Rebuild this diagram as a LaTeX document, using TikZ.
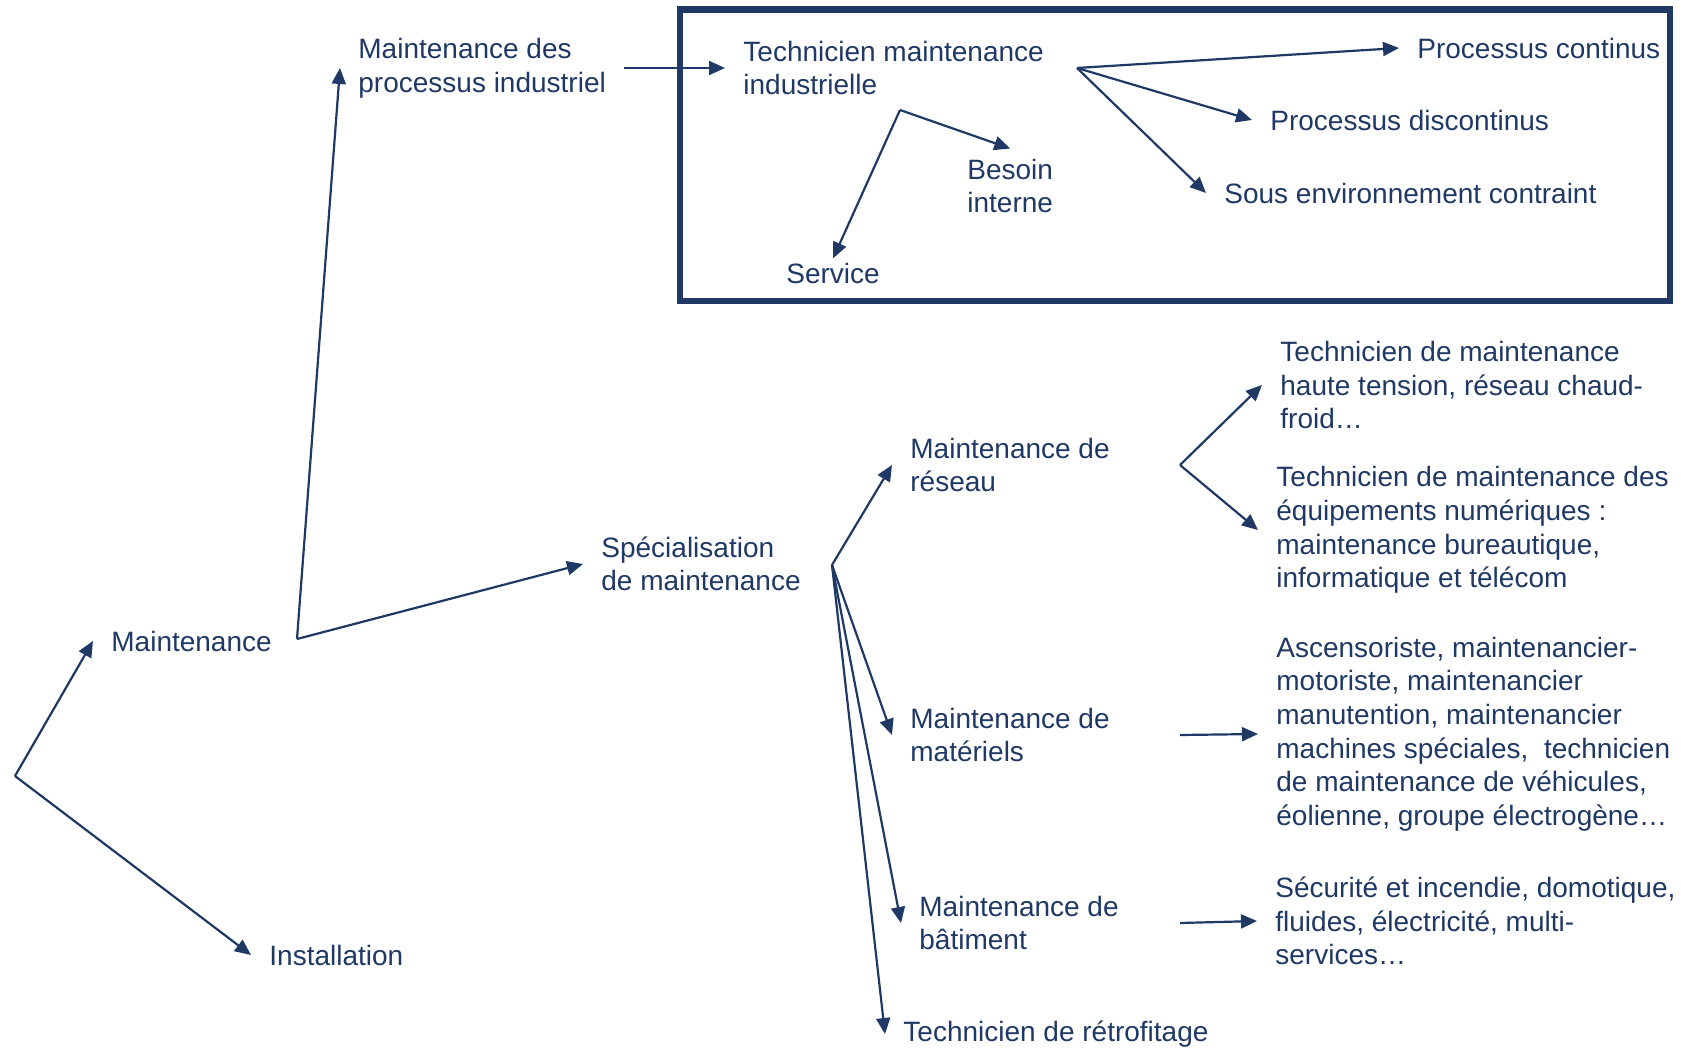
\documentclass[tikz,border=0pt]{standalone}
\usepackage{fontspec}
\setmainfont{Liberation Sans}
\usepackage{tikz}
\usetikzlibrary{arrows.meta}
\definecolor{navy}{HTML}{1F3864}
\tikzset{lbl/.style={anchor=west, align=left, inner xsep=9pt, inner ysep=2pt, text=navy,
  font=\fontsize{14}{16.8}\selectfont}}
\tikzset{arr/.style={navy, line width=1.1pt, ->, >={Triangle[length=8pt,width=7pt]}}}

\begin{document}
\begin{tikzpicture} [x=0.5pt,y=-0.5pt]
\useasboundingbox (0,0) rectangle (1681,1048);
\draw[navy, line width=3.25pt] (680,9.6) rectangle (1670,301);
% labels
\node[lbl] (maint)   at (93,641)  {Maintenance};
\node[lbl] (install) at (251,955) {Installation};
\node[lbl] (mproc)   at (340,68)  {Maintenance des\\processus industriel};
\node[lbl] (spec)    at (583,564) {Spécialisation\\de maintenance};
\node[lbl] (tmi)     at (725,68)  {Technicien maintenance\\industrielle};
\node[lbl] (cont)    at (1399,48) {Processus continus};
\node[lbl] (disc)    at (1252,120) {Processus discontinus};
\node[lbl] (sous)    at (1206,193) {Sous environnement contraint};
\node[lbl] (besoin)  at (949,186) {Besoin\\interne};
\node[lbl] (service) at (768,273) {Service};
\node[lbl] (res)     at (892,465) {Maintenance de\\réseau};
\node[lbl] (mat)     at (892,735) {Maintenance de\\matériels};
\node[lbl] (bat)     at (901,923) {Maintenance de\\bâtiment};
\node[lbl] (retro)   at (885,1034) {Technicien de rétrofitage};
\node[lbl] (ht)      at (1262,385) {Technicien de maintenance\\haute tension, réseau chaud-\\froid…};
\node[lbl] (num)     at (1258,530) {Technicien de maintenance des\\équipements numériques :\\maintenance bureautique,\\informatique et télécom};
\node[lbl] (asc)     at (1258,734) {Ascensoriste, maintenancier-\\motoriste, maintenancier\\manutention, maintenancier\\machines spéciales,~ technicien\\de maintenance de véhicules,\\éolienne, groupe électrogène…};
\node[lbl] (secu)    at (1257,921) {Sécurité et incendie, domotique,\\fluides, électricité, multi-\\services…};
% branch points
\coordinate (root)  at (15,776);
\coordinate (mj)    at (297,639);
\coordinate (tmij)  at (1077,68);
\coordinate (bj)    at (900,110);
\coordinate (specj) at (832,565);
\coordinate (resj)  at (1180,465);
\coordinate (matj)  at (1180,735);
\coordinate (batj)  at (1180,923);
% arrows
\draw[arr] (root) -- (maint.west);
\draw[arr] (root) -- (install.west);
\draw[arr] (mj) -- (mproc.west);
\draw[arr] (mj) -- (spec.west);
\draw[arr] (mproc.east) -- (mproc.east -| tmi.west);
\foreach \t in {cont,disc,sous}
 \draw[arr] (tmij) -- (\t.west);
\draw[arr] (bj) -- ([yshift=3pt]besoin.north);
\draw[arr] (bj) -- (service.north);
\foreach \t in {res,mat,bat,retro}
 \draw[arr] (specj) -- (\t.west);
\draw[arr] (resj) -- (ht.west);
\draw[arr] (resj) -- (num.west);
\draw[arr] (matj) -- (asc.west);
\draw[arr] (batj) -- (secu.west);
\end{tikzpicture}
\end{document}
